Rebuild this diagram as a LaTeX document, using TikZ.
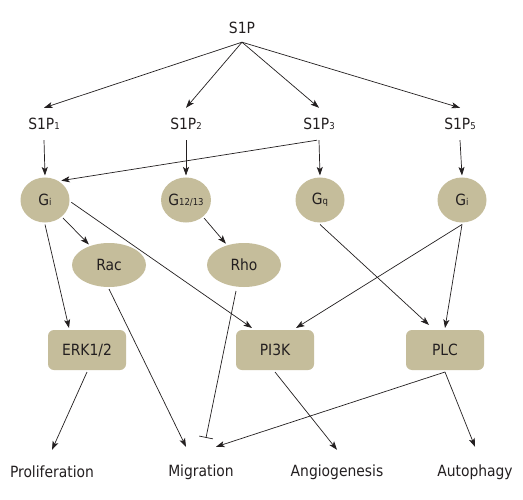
\documentclass[tikz,border=0pt]{standalone}
\usepackage{fontspec}
\setmainfont{DejaVu Sans Condensed}
\usetikzlibrary{arrows.meta,shapes.geometric,calc}
\definecolor{ink}{HTML}{231F20}
\definecolor{tan}{HTML}{C5BD9B}
\newcommand{\sbs}[1]{{\fontsize{9.5}{9.5}\selectfont #1}}
\begin{document}
\begin{tikzpicture}[x=1bp,y=-1bp,
  font=\fontsize{15.5}{15.5}\selectfont, text=ink,
  lbl/.style={inner sep=0pt, minimum height=32bp},
  outlbl/.style={inner sep=0pt, minimum height=44bp},
  gell/.style={ellipse, fill=tan, inner sep=0pt, minimum width=49bp, minimum height=45bp, outer sep=2bp},
  sell/.style={ellipse, fill=tan, inner sep=0pt, minimum width=74bp, minimum height=44bp, outer sep=2bp},
  kbox/.style={rectangle, rounded corners=6bp, fill=tan, inner sep=0pt, minimum width=78bp, minimum height=40bp, outer sep=2bp},
  conn/.style={draw=ink, line width=0.7bp, -{Stealth[length=8.5bp,width=6bp,inset=2bp]}},
  inh/.style={draw=ink, line width=0.7bp, -{Bar[width=14bp,line width=0.7bp]}}
]
\useasboundingbox[fill=white] (0,0) rectangle (523,500);

\node[inner sep=0pt, minimum height=28bp] (s1p) at (242,28) {S1P};

\node[lbl] (r1) at (44,124) {S1P\sbs{1}};
\node[lbl] (r2) at (186,124) {S1P\sbs{2}};
\node[lbl] (r3) at (319,124) {S1P\sbs{3}};
\node[lbl] (r5) at (460,124) {S1P\sbs{5}};

\node[gell] (gi1) at (45,200) {G\sbs{i}};
\node[gell] (g12) at (186,200) {G\sbs{12/13}};
\node[gell] (gq) at (320,200) {G\sbs{q}};
\node[gell] (gi5) at (462,200) {G\sbs{i}};

\node[sell] (rac) at (109,265) {Rac};
\node[sell] (rho) at (244,265) {Rho};

\node[kbox] (erk) at (87,350) {ERK1/2};
\node[kbox] (pi3k) at (275,350) {PI3K};
\node[kbox] (plc) at (445,350) {PLC};

\node[outlbl] (prol) at (52,472) {Proliferation};
\node[outlbl] (mig) at (201,472) {Migration};
\node[outlbl] (angio) at (337,472) {Angiogenesis};
\node[outlbl] (auto) at (475,472) {Autophagy};

\draw[conn] (s1p.south) -- (r1.north);
\draw[conn] (s1p.south) -- (r2.north);
\draw[conn] (s1p.south) -- (r3.north);
\draw[conn] (s1p.south) -- (r5.north);

\draw[conn] (r1.south) -- (gi1.north);
\draw[conn] (r2.south) -- (g12.north);
\draw[conn] (r3.south) -- (gq.north);
\draw[conn] (r5.south) -- (gi5.north);
\draw[conn] ($(r3.south)+(-2,0)$) -- (gi1.50);

\draw[conn] (gi1.-45) -- (rac);
\draw[conn] (g12.-45) -- (rho);
\draw[conn] (gi1.south) -- ($(erk.north)+(-18,0)$);
\draw[conn] (gi1.-5) -- ($(pi3k.north)+(-23,0)$);
\draw[conn] (gi5.south) -- ($(pi3k.north)+(21,0)$);
\draw[conn] (gi5.south) -- (plc.north);
\draw[conn] (gq.south) -- ($(plc.north)+(-16,-3)$);

\draw[conn] (rac.south) -- ($(mig.north)+(-15,-3)$);
\draw[inh] ($(rho.south)+(-8,2)$) -- ($(mig.north)+(5,-12)$);
\draw[conn] (plc.south) -- ($(mig.north)+(15,-3)$);
\draw[conn] (plc.south) -- ($(auto.north)+(0,-3)$);
\draw[conn] (erk.south) -- (prol.north);
\draw[conn] (pi3k.south) -- (angio.north);
\end{tikzpicture}
\end{document}
